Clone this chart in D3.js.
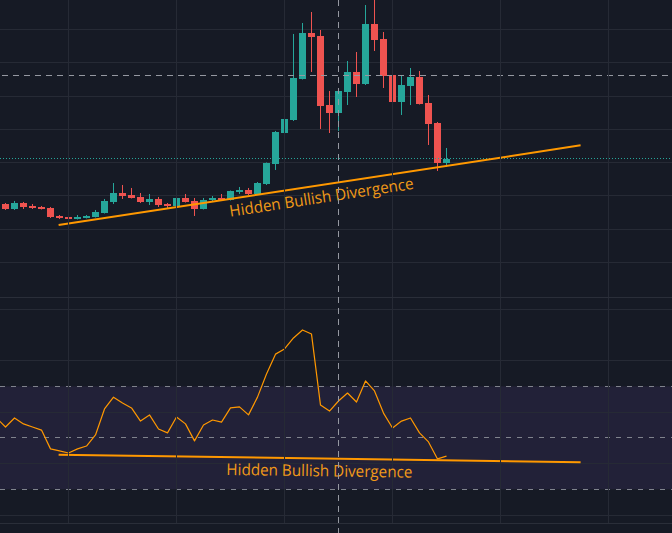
<!DOCTYPE html>
<html><head><meta charset="utf-8">
<script src="https://cdn.jsdelivr.net/npm/d3@7"></script>
<style>html,body{margin:0;padding:0;background:#161a25;overflow:hidden;} svg{display:block;}</style>
</head><body>
<script>
// ---------- DATA ----------
const categories = d3.range(0, 50);           // bar index (time)
const open  = [107.55,106.05,107.85,106.95,106.65,106.35,103.94,103.64,103.04,103.34,
               103.64,104.84,108.16,110.86,110.26,109.66,108.16,109.06,107.55,106.95,
               109.36,108.46,106.05,108.76,109.36,108.76,111.16,111.77,110.56,113.57,
               119.59,128.92,132.84,145.18,159.03,158.12,137.35,134.94,141.27,147.29,
               143.67,161.73,157.22,146.38,138.26,143.07,145.78,137.95,131.93,119.89];
const high  = [107.85,108.46,108.16,107.55,106.95,106.65,104.24,104.24,104.24,104.24,
               105.75,109.06,113.87,113.27,112.37,110.86,110.56,109.66,107.85,109.66,
               110.56,109.36,109.36,109.96,110.56,111.61,112.67,112.37,114.17,120.04,
               129.53,142.17,158.73,162.04,165.35,159.93,141.57,142.47,150.60,153.31,
               167.45,169.86,159.33,148.19,146.08,148.49,147.59,140.36,132.24,124.41];
const low   = [105.75,105.75,106.05,106.05,105.90,103.34,103.04,102.89,102.89,103.19,
               103.49,104.69,107.55,109.06,109.21,107.85,107.25,106.65,106.35,106.80,
               108.00,103.94,105.90,108.16,108.60,108.60,110.56,110.26,110.41,113.27,
               117.79,127.72,132.54,145.03,147.29,130.13,128.92,129.53,137.35,139.76,
               143.37,153.61,142.47,133.14,134.34,137.35,137.50,125.31,117.49,118.69];
const close = [106.05,107.85,106.65,106.35,106.05,103.64,103.34,103.04,103.64,103.94,
               105.14,108.46,110.86,109.96,109.36,108.16,109.06,107.25,106.95,109.36,
               108.16,106.05,108.76,109.36,108.76,111.47,111.77,110.56,113.87,119.89,
               129.23,133.14,145.48,159.03,157.82,137.05,134.94,141.57,147.29,143.67,
               161.73,156.92,146.08,138.26,143.37,145.78,137.65,131.63,119.89,121.10];
// RSI series, first value belongs to the bar before index 0
const rsiStartIndex = -1;
const rsi = [57.7,54.2,57.7,55.4,54.2,53.0,45.7,44.9,44.1,45.7,46.8,
             51.1,61.2,65.8,63.5,61.6,56.5,58.9,53.4,51.9,58.1,
             55.4,48.8,55.0,56.9,56.1,61.6,62.0,58.9,65.8,74.8,
             82.5,84.5,88.8,91.9,90.3,62.7,60.4,64.3,67.4,63.9,
             72.1,68.2,59.6,53.8,56.5,57.7,51.9,48.4,41.8,42.9];
const priceGridValues = [90,100,110,120,130,140,150,160,170];
const rsiGridValues = [20,40,60,80,100];
const rsiLevelValues = [70,50,30];
const rsiBand = [30,70];
const timeGridIndex = [7,19,31,43,55,67];
const crosshairIndex = 37;
const crosshairPrice = 146.3;
const priceTrend = {i1:5.9, v1:101.2, i2:63.9, v2:125.2};
const rsiTrend   = {i1:5.9, v1:43.4,  i2:63.9, v2:40.5};
const labelText = "Hidden Bullish Divergence";

// ---------- LAYOUT ----------
const W = 672, H = 533;
const mainTop = 0, mainBottom = 297, rsiTop = 297, rsiBottom = 523;
const C = {bg:"#161a25", grid:"#262a35", up:"#26a69a", down:"#ef5350",
           orange:"#ff9800", text:"#f29a18", level:"#80838d", cross:"#9598a1",
           band:"rgba(126,87,194,0.12)"};

const svg = d3.select("body").append("svg").attr("width", W).attr("height", H);
svg.append("rect").attr("width", W).attr("height", H).attr("fill", C.bg);

const x = d3.scaleLinear().domain([-0.6111, 74.0556]).range([0, W]);
const yP = d3.scaleLinear().domain([79.55, 168.96]).range([mainBottom, mainTop]);
const yR = d3.scaleLinear().domain([16.9, 104.7]).range([rsiBottom, rsiTop]);
const crisp = v => Math.round(v - 0.5) + 0.5;

const defs = svg.append("defs");
defs.append("clipPath").attr("id","cm").append("rect").attr("x",0).attr("y",mainTop).attr("width",W).attr("height",mainBottom-mainTop);
defs.append("clipPath").attr("id","cr").append("rect").attr("x",0).attr("y",rsiTop).attr("width",W).attr("height",rsiBottom-rsiTop);

const gM = svg.append("g").attr("clip-path","url(#cm)");
const gR = svg.append("g").attr("clip-path","url(#cr)");

// RSI band
gR.append("rect").attr("x",0).attr("width",W)
  .attr("y", yR(rsiBand[1])).attr("height", yR(rsiBand[0]) - yR(rsiBand[1]))
  .attr("fill", C.band);

// grids
gM.selectAll("line.h").data(priceGridValues).join("line")
  .attr("x1",0).attr("x2",W).attr("y1",d=>crisp(yP(d))).attr("y2",d=>crisp(yP(d)))
  .attr("stroke",C.grid).attr("stroke-width",1);
gR.selectAll("line.h").data(rsiGridValues).join("line")
  .attr("x1",0).attr("x2",W).attr("y1",d=>crisp(yR(d))).attr("y2",d=>crisp(yR(d)))
  .attr("stroke",C.grid).attr("stroke-width",1);
svg.selectAll("line.v").data(timeGridIndex).join("line")
  .attr("x1",d=>crisp(x(d))).attr("x2",d=>crisp(x(d))).attr("y1",0).attr("y2",rsiBottom)
  .attr("stroke",C.grid).attr("stroke-width",1);

// pane separators
[rsiTop, rsiBottom].forEach(v=>{
  svg.append("line").attr("x1",0).attr("x2",W).attr("y1",v+0.5).attr("y2",v+0.5)
    .attr("stroke","#2a2e39").attr("stroke-width",1);
});

// RSI levels
gR.selectAll("line.lv").data(rsiLevelValues).join("line")
  .attr("x1",0).attr("x2",W).attr("y1",d=>crisp(yR(d))).attr("y2",d=>crisp(yR(d)))
  .attr("stroke",C.level).attr("stroke-width",1).attr("stroke-dasharray","5,6");

// candles
const bars = categories.map(i=>({i, o:open[i], h:high[i], l:low[i], c:close[i]}));
const cg = gM.append("g");
cg.selectAll("line.w").data(bars).join("line")
  .attr("x1",d=>crisp(x(d.i))).attr("x2",d=>crisp(x(d.i)))
  .attr("y1",d=>yP(d.h)).attr("y2",d=>yP(d.l))
  .attr("stroke",d=>d.c>=d.o?C.up:C.down).attr("stroke-width",1);
cg.selectAll("rect").data(bars).join("rect")
  .attr("x",d=>Math.round(x(d.i)-3.5)).attr("width",7)
  .attr("y",d=>Math.round(yP(Math.max(d.o,d.c))))
  .attr("height",d=>Math.max(1, Math.round(yP(Math.min(d.o,d.c))) - Math.round(yP(Math.max(d.o,d.c)))))
  .attr("fill",d=>d.c>=d.o?C.up:C.down);

// last price line (dotted)
gM.append("line").attr("x1",0).attr("x2",W)
  .attr("y1",crisp(yP(close[close.length-1]))).attr("y2",crisp(yP(close[close.length-1])))
  .attr("stroke",C.up).attr("stroke-width",1).attr("stroke-dasharray","1,2");

// RSI line
const rsiPts = rsi.map((v,k)=>({i:k+rsiStartIndex, v}));
gR.append("path").datum(rsiPts)
  .attr("d", d3.line().x(d=>x(d.i)).y(d=>yR(d.v)))
  .attr("fill","none").attr("stroke",C.orange).attr("stroke-width",1.2).attr("stroke-linejoin","round");

// trendlines + labels
function trend(g, t, ys) {
  const x1=x(t.i1), y1=ys(t.v1), x2=x(t.i2), y2=ys(t.v2);
  g.append("line").attr("x1",x1).attr("y1",y1).attr("x2",x2).attr("y2",y2)
    .attr("stroke",C.orange).attr("stroke-width",2);
  const ang = Math.atan2(y2-y1, x2-x1);
  const mx=(x1+x2)/2, my=(y1+y2)/2, off=17.8;
  const tx = mx - Math.sin(ang)*off, ty = my + Math.cos(ang)*off;
  svg.append("text").attr("x",0).attr("y",0)
    .attr("transform",`translate(${tx},${ty}) rotate(${ang*180/Math.PI})`)
    .attr("text-anchor","middle")
    .attr("font-family","'Open Sans', 'Noto Sans', sans-serif").attr("font-size",16)
    .attr("textLength",186).attr("lengthAdjust","spacingAndGlyphs")
    .attr("fill",C.text).text(labelText);
}
trend(gM, priceTrend, yP);
trend(gR, rsiTrend, yR);

// crosshair
svg.append("line").attr("x1",crisp(x(crosshairIndex))).attr("x2",crisp(x(crosshairIndex)))
  .attr("y1",0).attr("y2",H).attr("stroke",C.cross).attr("stroke-width",1).attr("stroke-dasharray","6,5");
gM.append("line").attr("x1",2).attr("x2",W).attr("y1",crisp(yP(crosshairPrice))).attr("y2",crisp(yP(crosshairPrice)))
  .attr("stroke",C.cross).attr("stroke-width",1).attr("stroke-dasharray","6,5");
</script>
</body></html>
